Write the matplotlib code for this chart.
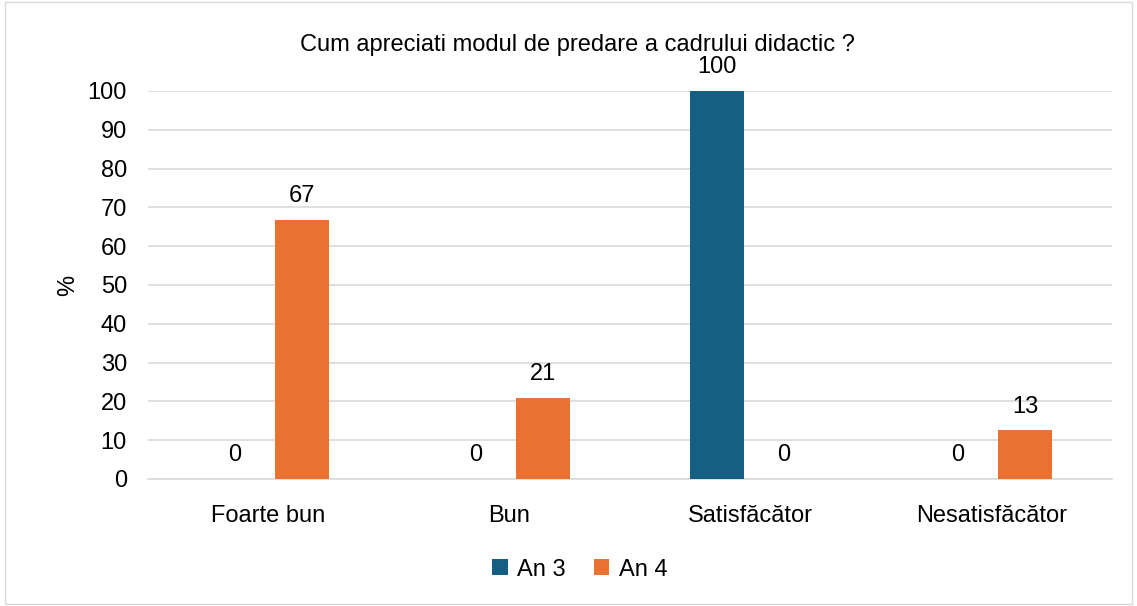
import numpy as np
import matplotlib.pyplot as plt
from matplotlib.patches import Rectangle

plt.rcParams['font.family'] = ['Liberation Sans', 'DejaVu Sans']

categories = ['Foarte bun', 'Bun', 'Satisfăcător', 'Nesatisfăcător']
an3 = [0, 0, 100, 0]
an4 = [66.7, 20.8, 0, 12.5]
yticks = [0, 10, 20, 30, 40, 50, 60, 70, 80, 90, 100]

c3 = '#156082'
c4 = '#E97132'
fs = 17

fig = plt.figure(figsize=(11.37, 6.06), dpi=100)
ax = fig.add_axes([0.130, 0.2096, 0.848, 0.6404])

x = np.arange(len(categories))
w = 0.225
off = 0.14
b3 = ax.bar(x - off, an3, w, color=c3, label='An 3', zorder=3)
b4 = ax.bar(x + off, an4, w, color=c4, label='An 4', zorder=3)

# etichete de date, rotunjite ca in Excel
for bars, vals in ((b3, an3), (b4, an4)):
    for b, v in zip(bars, vals):
        ax.text(b.get_x() + b.get_width() / 2, v + 3.3, str(int(v + 0.5)),
                ha='center', va='bottom', fontsize=fs, clip_on=False)

ax.set_xlim(-0.5, len(categories) - 0.5)
ax.set_ylim(0, 100)
ax.set_yticks(yticks)
ax.set_xticks(x)
ax.set_xticklabels(categories, fontsize=fs)
ax.tick_params(axis='y', labelsize=fs, length=0, pad=15)
ax.tick_params(axis='x', length=0, pad=19)
ax.grid(axis='y', color='#d9d9d9', linewidth=1.2, zorder=0)
for s in ['top', 'right', 'left']:
    ax.spines[s].set_visible(False)
ax.spines['bottom'].set_color('#d9d9d9')
ax.spines['bottom'].set_linewidth(1.2)

ax.set_ylabel('%', fontsize=fs, labelpad=6)
fig.text(0.508, 0.926, 'Cum apreciati modul de predare a cadrului didactic ?',
         ha='center', va='center', fontsize=fs)

fig.legend(handles=[b3, b4], loc='center', bbox_to_anchor=(0.51, 0.06), ncol=2,
           frameon=False, fontsize=fs, handlelength=0.65, handleheight=0.65,
           columnspacing=1.2, handletextpad=0.4)

fig.patches.append(Rectangle((0.004, 0.004), 0.992, 0.992, transform=fig.transFigure,
                             fill=False, edgecolor='#d9d9d9', linewidth=1))

fig.savefig('out.png', dpi=100)
